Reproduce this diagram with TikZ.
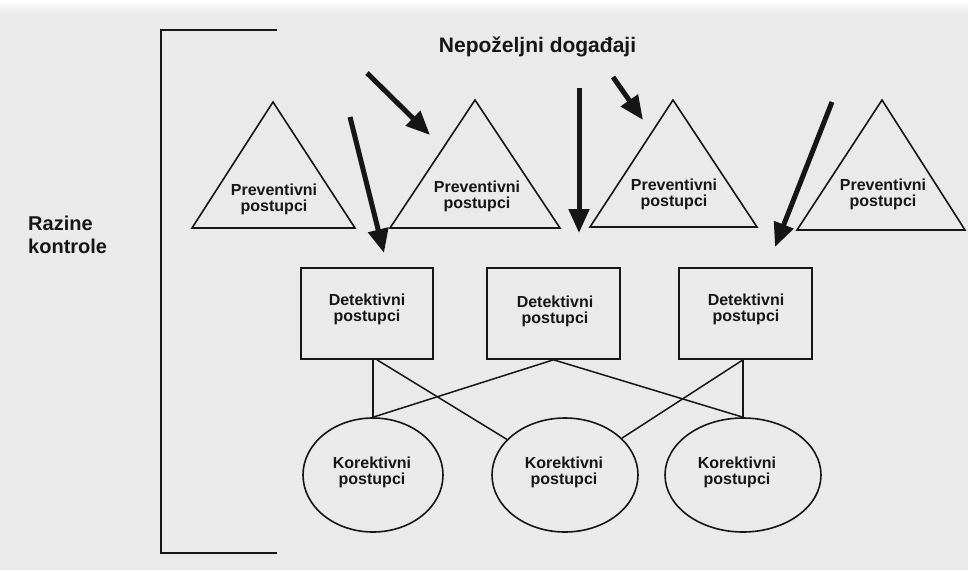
\documentclass[tikz,border=0pt]{standalone}
\usepackage{fontspec}
\setmainfont{Liberation Sans}
\usetikzlibrary{arrows.meta,shapes.geometric}
\definecolor{bg}{RGB}{234,234,234}
\definecolor{ink}{RGB}{22,22,22}
\begin{document}
\begin{tikzpicture}[x=1pt,y=-1pt,
  lbl/.style={font=\fontsize{16}{16}\selectfont\bfseries, align=center, text=ink, inner sep=0pt},
  titletext/.style={font=\fontsize{21}{24}\selectfont\bfseries, text=ink, inner sep=0pt},
  sidetext/.style={font=\fontsize{20}{23}\selectfont\bfseries, text=ink, inner sep=0pt, align=left},
  tri/.style={draw=ink, line width=1.6pt, line join=miter},
  dbox/.style={draw=ink, line width=1.6pt, rectangle, minimum width=133pt, minimum height=91pt, inner sep=0pt},
  kell/.style={draw=ink, line width=1.6pt, ellipse, minimum height=114pt, inner sep=0pt},
  conn/.style={draw=ink, line width=1.5pt},
  bigarrow/.style={draw=ink, line width=5pt, -{Triangle[length=24pt,width=20pt]}},
  bracket/.style={draw=ink, line width=2.8pt}
]
\fill[bg] (0,0) rectangle (968,570);
\shade[top color=white, bottom color=bg] (0,0) rectangle (968,14);
\useasboundingbox (0,0) rectangle (968,570);

% bracket
\coordinate (bt) at (277,30);
\coordinate (btl) at (161,30);
\coordinate (bbl) at (161,553);
\coordinate (bb) at (277,553);
\draw[bracket] (bt) -- (btl) -- (bbl) -- (bb);

% texts
\node[titletext, anchor=base] (title) at (537.5,52) {Nepoželjni događaji};
\node[sidetext, anchor=north west] (side) at (28,215.5) {Razine\\kontrole};

% triangles
\coordinate (t1a) at (273,102); \coordinate (t1l) at (192,228); \coordinate (t1r) at (355,228);
\coordinate (t2a) at (475,100); \coordinate (t2l) at (390,228); \coordinate (t2r) at (560,228);
\coordinate (t3a) at (673,100); \coordinate (t3l) at (590,227); \coordinate (t3r) at (757,227);
\coordinate (t4a) at (882,100); \coordinate (t4l) at (797,230); \coordinate (t4r) at (965,230);
\draw[tri] (t1l) -- (t1a) -- (t1r) -- cycle;
\draw[tri] (t2l) -- (t2a) -- (t2r) -- cycle;
\draw[tri] (t3l) -- (t3a) -- (t3r) -- cycle;
\draw[tri] (t4l) -- (t4a) -- (t4r) -- cycle;
\node[lbl] (P1) at (274,199) {Preventivni\\postupci};
\node[lbl] (P2) at (477,196) {Preventivni\\postupci};
\node[lbl] (P3) at (674,194) {Preventivni\\postupci};
\node[lbl] (P4) at (883,194) {Preventivni\\postupci};

% rectangles
\node[dbox, minimum width=132pt] (R1) at (367,313.5) {};
\node[dbox] (R2) at (553.5,313.5) {};
\node[dbox] (R3) at (745.5,313.5) {};
\node[lbl] (D1) at (367,309) {Detektivni\\postupci};
\node[lbl] (D2) at (555,311) {Detektivni\\postupci};
\node[lbl] (D3) at (746,309) {Detektivni\\postupci};

% ellipses
\node[kell, minimum width=140pt] (E1) at (373,475) {};
\node[kell, minimum width=146pt] (E2) at (565,475) {};
\node[kell, minimum width=156pt] (E3) at (743,475) {};
\node[lbl] (K1) at (372,472) {Korektivni\\postupci};
\node[lbl] (K2) at (564,472) {Korektivni\\postupci};
\node[lbl] (K3) at (737,472) {Korektivni\\postupci};

% connectors
\coordinate (r1a) at (R1.south -| E1.north);
\coordinate (r1b) at ([xshift=4pt]r1a);
\coordinate (r3a) at (R3.south -| E3.north);
\draw[conn] (r1a) -- (E1.north);
\draw[conn] (r1b) -- (E2);
\draw[conn] (R2.south) -- (E1.north);
\draw[conn] (R2.south) -- (E3.north);
\draw[conn] (r3a) -- (E2);
\draw[conn] (r3a) -- (E3.north);

% arrows (undesired events)
\coordinate (a1s) at (350,117); \coordinate (a1e) at (384,253);
\coordinate (a2s) at (367,73);  \coordinate (a2e) at (430,135);
\coordinate (a3s) at (579,88);  \coordinate (a3e) at (579,233);
\coordinate (a4s) at (613,77);  \coordinate (a4e) at (643,120);
\coordinate (a5s) at (832,102); \coordinate (a5e) at (775,247);
\draw[bigarrow] (a1s) -- (a1e);
\draw[bigarrow] (a2s) -- (a2e);
\draw[bigarrow] (a3s) -- (a3e);
\draw[bigarrow] (a4s) -- (a4e);
\draw[bigarrow] (a5s) -- (a5e);
\end{tikzpicture}
\end{document}
